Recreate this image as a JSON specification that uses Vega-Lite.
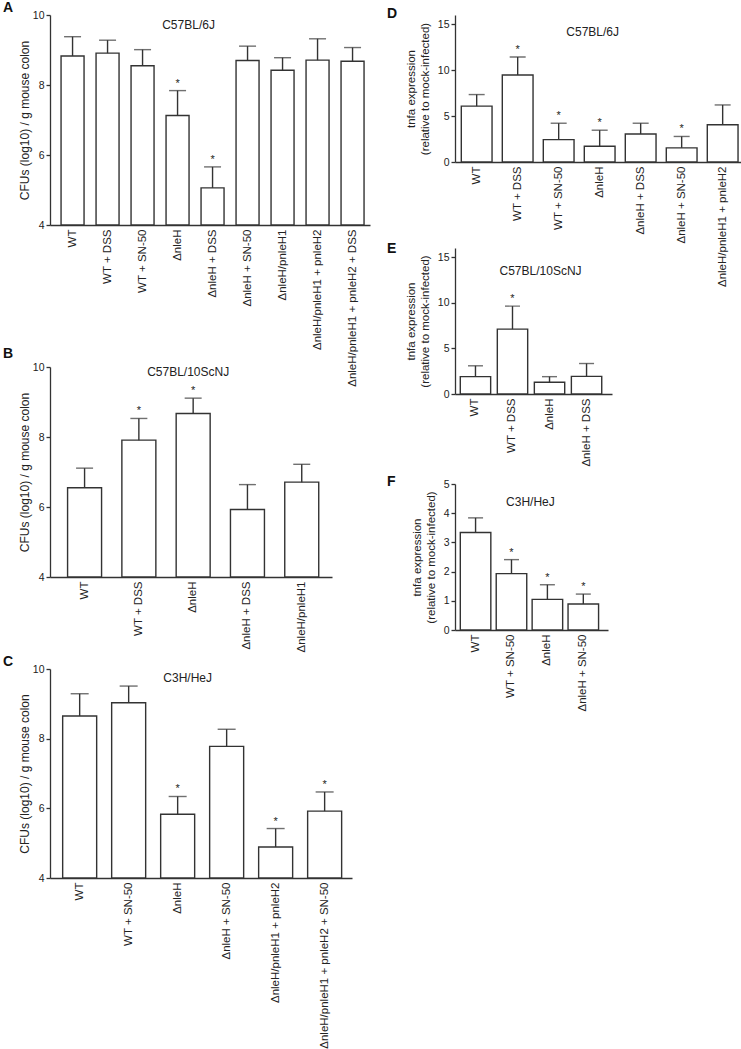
{
  "$schema": "https://vega.github.io/schema/vega-lite/v6.json",
  "autosize": {"type": "pad"},
  "padding": {"left": 3, "top": 1, "right": 0, "bottom": 0},
  "background": "white",
  "bounds": "flush",
  "spacing": 405,
  "datasets": {
    "A": [
      {"cond": "WT", "mean": 8.83, "upper": 9.38, "sig": ""},
      {"cond": "WT + DSS", "mean": 8.91, "upper": 9.28, "sig": ""},
      {"cond": "WT + SN-50", "mean": 8.55, "upper": 9.01, "sig": ""},
      {"cond": "ΔnleH", "mean": 7.13, "upper": 7.84, "sig": "*"},
      {"cond": "ΔnleH + DSS", "mean": 5.06, "upper": 5.66, "sig": "*"},
      {"cond": "ΔnleH + SN-50", "mean": 8.70, "upper": 9.11, "sig": ""},
      {"cond": "ΔnleH/pnleH1", "mean": 8.42, "upper": 8.78, "sig": ""},
      {"cond": "ΔnleH/pnleH1 + pnleH2", "mean": 8.71, "upper": 9.32, "sig": ""},
      {"cond": "ΔnleH/pnleH1 + pnleH2 + DSS", "mean": 8.68, "upper": 9.07, "sig": ""}
    ],
    "B": [
      {"cond": "WT", "mean": 6.55, "upper": 7.11, "sig": ""},
      {"cond": "WT + DSS", "mean": 7.91, "upper": 8.53, "sig": "*"},
      {"cond": "ΔnleH", "mean": 8.67, "upper": 9.11, "sig": "*"},
      {"cond": "ΔnleH + DSS", "mean": 5.93, "upper": 6.64, "sig": ""},
      {"cond": "ΔnleH/pnleH1", "mean": 6.71, "upper": 7.22, "sig": ""}
    ],
    "C": [
      {"cond": "WT", "mean": 8.65, "upper": 9.29, "sig": ""},
      {"cond": "WT + SN-50", "mean": 9.03, "upper": 9.51, "sig": ""},
      {"cond": "ΔnleH", "mean": 5.83, "upper": 6.34, "sig": "*"},
      {"cond": "ΔnleH + SN-50", "mean": 7.78, "upper": 8.27, "sig": ""},
      {"cond": "ΔnleH/pnleH1 + pnleH2", "mean": 4.89, "upper": 5.42, "sig": "*"},
      {"cond": "ΔnleH/pnleH1 + pnleH2 + SN-50", "mean": 5.92, "upper": 6.47, "sig": "*"}
    ],
    "D": [
      {"cond": "WT", "mean": 6.08, "upper": 7.34, "sig": ""},
      {"cond": "WT + DSS", "mean": 9.47, "upper": 11.43, "sig": "*"},
      {"cond": "WT + SN-50", "mean": 2.43, "upper": 4.22, "sig": "*"},
      {"cond": "ΔnleH", "mean": 1.71, "upper": 3.46, "sig": "*"},
      {"cond": "ΔnleH + DSS", "mean": 3.05, "upper": 4.22, "sig": ""},
      {"cond": "ΔnleH + SN-50", "mean": 1.54, "upper": 2.78, "sig": "*"},
      {"cond": "ΔnleH/pnleH1 + pnleH2", "mean": 4.05, "upper": 6.21, "sig": ""}
    ],
    "E": [
      {"cond": "WT", "mean": 1.90, "upper": 3.09, "sig": ""},
      {"cond": "WT + DSS", "mean": 7.11, "upper": 9.63, "sig": "*"},
      {"cond": "ΔnleH", "mean": 1.28, "upper": 1.90, "sig": ""},
      {"cond": "ΔnleH + DSS", "mean": 1.93, "upper": 3.34, "sig": ""}
    ],
    "F": [
      {"cond": "WT", "mean": 3.34, "upper": 3.84, "sig": ""},
      {"cond": "WT + SN-50", "mean": 1.93, "upper": 2.41, "sig": "*"},
      {"cond": "ΔnleH", "mean": 1.05, "upper": 1.55, "sig": "*"},
      {"cond": "ΔnleH + SN-50", "mean": 0.89, "upper": 1.23, "sig": "*"}
    ]
  },
  "hconcat": [
    {
      "bounds": "flush",
      "spacing": 142,
      "vconcat": [
        {
          "width": 320, "height": 210,
          "title": {"text": "A", "dx": -47, "offset": -5},
          "data": {"name": "A"},
          "encoding": {"x": {"field": "cond", "type": "nominal", "sort": null, "scale": {"paddingInner": 0.343, "paddingOuter": 0.243, "align": 0.65}, "axis": {"title": null}}},
          "layer": [
            {"mark": {"type": "bar", "fill": "white", "stroke": "#333", "strokeWidth": 1.4}, "encoding": {"y": {"field": "mean", "type": "quantitative", "scale": {"domain": [4, 10], "zero": false}, "axis": {"values": [4, 6, 8, 10], "title": "CFUs (log10) / g mouse colon", "titlePadding": 1}}, "y2": {"datum": 4}}},
            {"mark": {"type": "rule", "stroke": "#333", "strokeWidth": 1.4}, "encoding": {"y": {"field": "mean", "type": "quantitative"}, "y2": {"field": "upper"}}},
            {"mark": {"type": "tick", "color": "#333", "thickness": 1.4, "size": 17}, "encoding": {"y": {"field": "upper", "type": "quantitative"}}},
            {"mark": {"type": "text", "baseline": "bottom", "dy": -2, "fontSize": 11}, "encoding": {"y": {"field": "upper", "type": "quantitative"}, "text": {"field": "sig"}}},
            {"data": {"values": [{"strain": "C57BL/6J"}]}, "mark": {"type": "text", "fontSize": 12, "dx": 11}, "encoding": {"x": {"datum": "ΔnleH"}, "y": {"datum": 9.71}, "text": {"field": "strain"}}}
          ]
        },
        {
          "bounds": "flush",
          "spacing": 92,
          "vconcat": [
            {
              "width": 282, "height": 210,
              "title": {"text": "B", "dx": -47, "offset": 1},
              "data": {"name": "B"},
              "encoding": {"x": {"field": "cond", "type": "nominal", "sort": null, "scale": {"paddingInner": 0.374, "paddingOuter": 0.284, "align": 0.57}, "axis": {"title": null}}},
              "layer": [
                {"mark": {"type": "bar", "fill": "white", "stroke": "#333", "strokeWidth": 1.4}, "encoding": {"y": {"field": "mean", "type": "quantitative", "scale": {"domain": [4, 10], "zero": false}, "axis": {"values": [4, 6, 8, 10], "title": "CFUs (log10) / g mouse colon", "titlePadding": 1}}, "y2": {"datum": 4}}},
                {"mark": {"type": "rule", "stroke": "#333", "strokeWidth": 1.4}, "encoding": {"y": {"field": "mean", "type": "quantitative"}, "y2": {"field": "upper"}}},
                {"mark": {"type": "tick", "color": "#333", "thickness": 1.4, "size": 17}, "encoding": {"y": {"field": "upper", "type": "quantitative"}}},
                {"mark": {"type": "text", "baseline": "bottom", "dy": -2, "fontSize": 11}, "encoding": {"y": {"field": "upper", "type": "quantitative"}, "text": {"field": "sig"}}},
                {"data": {"values": [{"strain": "C57BL/10ScNJ"}]}, "mark": {"type": "text", "fontSize": 12, "dx": -5}, "encoding": {"x": {"datum": "ΔnleH"}, "y": {"datum": 9.85}, "text": {"field": "strain"}}}
              ]
            },
            {
              "width": 302, "height": 209,
              "title": {"text": "C", "dx": -47, "offset": -5},
              "data": {"name": "C"},
              "encoding": {"x": {"field": "cond", "type": "nominal", "sort": null, "scale": {"paddingInner": 0.306, "paddingOuter": 0.235, "align": 0.55}, "axis": {"title": null}}},
              "layer": [
                {"mark": {"type": "bar", "fill": "white", "stroke": "#333", "strokeWidth": 1.4}, "encoding": {"y": {"field": "mean", "type": "quantitative", "scale": {"domain": [4, 10], "zero": false}, "axis": {"values": [4, 6, 8, 10], "title": "CFUs (log10) / g mouse colon", "titlePadding": 1}}, "y2": {"datum": 4}}},
                {"mark": {"type": "rule", "stroke": "#333", "strokeWidth": 1.4}, "encoding": {"y": {"field": "mean", "type": "quantitative"}, "y2": {"field": "upper"}}},
                {"mark": {"type": "tick", "color": "#333", "thickness": 1.4, "size": 18}, "encoding": {"y": {"field": "upper", "type": "quantitative"}}},
                {"mark": {"type": "text", "baseline": "bottom", "dy": -2, "fontSize": 11}, "encoding": {"y": {"field": "upper", "type": "quantitative"}, "text": {"field": "sig"}}},
                {"data": {"values": [{"strain": "C3H/HeJ"}]}, "mark": {"type": "text", "fontSize": 12, "dx": 10}, "encoding": {"x": {"datum": "ΔnleH"}, "y": {"datum": 9.74}, "text": {"field": "strain"}}}
              ]
            }
          ]
        }
      ]
    },
    {
      "bounds": "flush",
      "spacing": 86,
      "vconcat": [
        {
          "width": 286, "height": 147,
          "title": {"text": "D", "dx": -68, "offset": -6},
          "data": {"name": "D"},
          "encoding": {"x": {"field": "cond", "type": "nominal", "sort": null, "scale": {"paddingInner": 0.25, "paddingOuter": 0.113, "align": 0.68}, "axis": {"title": null}}},
          "layer": [
            {"mark": {"type": "bar", "fill": "white", "stroke": "#333", "strokeWidth": 1.4}, "encoding": {"y": {"field": "mean", "type": "quantitative", "scale": {"domain": [0, 15]}, "axis": {"values": [0, 5, 10, 15], "title": ["tnfa expression", "(relative to mock-infected)"], "titlePadding": 7, "titleFontSize": 11.5}}}},
            {"mark": {"type": "rule", "stroke": "#333", "strokeWidth": 1.4}, "encoding": {"y": {"field": "mean", "type": "quantitative"}, "y2": {"field": "upper"}}},
            {"mark": {"type": "tick", "color": "#333", "thickness": 1.4, "size": 16}, "encoding": {"y": {"field": "upper", "type": "quantitative"}}},
            {"mark": {"type": "text", "baseline": "bottom", "dy": -2, "fontSize": 11}, "encoding": {"y": {"field": "upper", "type": "quantitative"}, "text": {"field": "sig"}}},
            {"data": {"values": [{"strain": "C57BL/6J"}]}, "mark": {"type": "text", "fontSize": 12, "dx": -7}, "encoding": {"x": {"datum": "ΔnleH"}, "y": {"datum": 14.13}, "text": {"field": "strain"}}}
          ]
        },
        {
          "bounds": "flush",
          "spacing": 90,
          "vconcat": [
            {
              "width": 157, "height": 146,
              "title": {"text": "E", "dx": -68, "offset": -8},
              "data": {"name": "E"},
              "encoding": {"x": {"field": "cond", "type": "nominal", "sort": null, "scale": {"paddingInner": 0.18, "paddingOuter": 0.21, "align": 0.34}, "axis": {"title": null}}},
              "layer": [
                {"mark": {"type": "bar", "fill": "white", "stroke": "#333", "strokeWidth": 1.4}, "encoding": {"y": {"field": "mean", "type": "quantitative", "scale": {"domain": [0, 15]}, "axis": {"values": [0, 5, 10, 15], "title": ["tnfa expression", "(relative to mock-infected)"], "titlePadding": 7, "titleFontSize": 11.5}}}},
                {"mark": {"type": "rule", "stroke": "#333", "strokeWidth": 1.4}, "encoding": {"y": {"field": "mean", "type": "quantitative"}, "y2": {"field": "upper"}}},
                {"mark": {"type": "tick", "color": "#333", "thickness": 1.4, "size": 15}, "encoding": {"y": {"field": "upper", "type": "quantitative"}}},
                {"mark": {"type": "text", "baseline": "bottom", "dy": -2, "fontSize": 11}, "encoding": {"y": {"field": "upper", "type": "quantitative"}, "text": {"field": "sig"}}},
                {"data": {"values": [{"strain": "C57BL/10ScNJ"}]}, "mark": {"type": "text", "fontSize": 12, "dx": -9}, "encoding": {"x": {"datum": "ΔnleH"}, "y": {"datum": 13.46}, "text": {"field": "strain"}}}
              ]
            },
            {
              "width": 153, "height": 146,
              "title": {"text": "F", "dx": -68, "offset": -10},
              "data": {"name": "F"},
              "encoding": {"x": {"field": "cond", "type": "nominal", "sort": null, "scale": {"paddingInner": 0.15, "paddingOuter": 0.205, "align": 0.36}, "axis": {"title": null}}},
              "layer": [
                {"mark": {"type": "bar", "fill": "white", "stroke": "#333", "strokeWidth": 1.4}, "encoding": {"y": {"field": "mean", "type": "quantitative", "scale": {"domain": [0, 5]}, "axis": {"values": [0, 1, 2, 3, 4, 5], "tickCount": 6, "title": ["tnfa expression", "(relative to mock-infected)"], "titlePadding": 7, "titleFontSize": 11.5}}}},
                {"mark": {"type": "rule", "stroke": "#333", "strokeWidth": 1.4}, "encoding": {"y": {"field": "mean", "type": "quantitative", "axis": {"values": [0, 1, 2, 3, 4, 5], "tickCount": 6}}, "y2": {"field": "upper"}}},
                {"mark": {"type": "tick", "color": "#333", "thickness": 1.4, "size": 15}, "encoding": {"y": {"field": "upper", "type": "quantitative", "axis": {"values": [0, 1, 2, 3, 4, 5], "tickCount": 6}}}},
                {"mark": {"type": "text", "baseline": "bottom", "dy": -2, "fontSize": 11}, "encoding": {"y": {"field": "upper", "type": "quantitative", "axis": {"values": [0, 1, 2, 3, 4, 5], "tickCount": 6}}, "text": {"field": "sig"}}},
                {"data": {"values": [{"strain": "C3H/HeJ"}]}, "mark": {"type": "text", "fontSize": 12, "dx": -17}, "encoding": {"x": {"datum": "ΔnleH"}, "y": {"datum": 4.38}, "text": {"field": "strain"}}}
              ]
            }
          ]
        }
      ]
    }
  ],
  "config": {
    "font": "Liberation Sans",
    "view": {"stroke": null},
    "title": {"fontSize": 14, "fontWeight": "bold", "anchor": "start", "frame": "group", "baseline": "alphabetic", "color": "#111", "font": "Liberation Sans"},
    "axis": {"grid": false, "domainColor": "#333", "tickColor": "#333", "labelColor": "#222", "titleColor": "#222", "labelFont": "Liberation Sans", "titleFont": "Liberation Sans", "titleFontWeight": "normal", "labelFontSize": 10.5, "titleFontSize": 12, "domainWidth": 1.3, "tickWidth": 1.3, "tickSize": 4, "labelPadding": 2, "labelOverlap": false},
    "axisX": {"ticks": false, "labelAngle": -90, "labelPadding": 4, "labelFontSize": 11.5, "labelLimit": 400, "labelOverlap": false},
    "text": {"font": "Liberation Sans", "color": "#222"}
  }
}
